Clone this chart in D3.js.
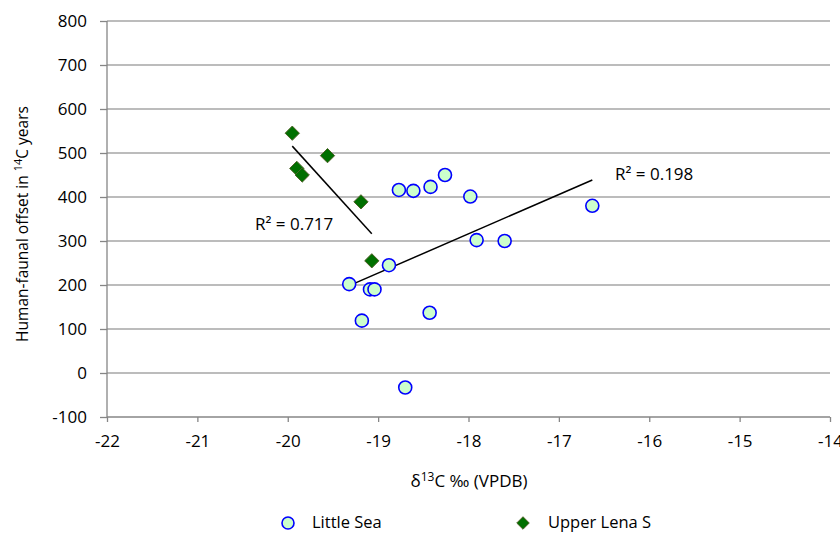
<!DOCTYPE html>
<html>
<head>
<meta charset="utf-8">
<script src="https://cdn.jsdelivr.net/npm/d3@7"></script>
<style>
  body { margin: 0; background: #fff; }
  text { font-family: "Open Sans", "Liberation Sans", sans-serif; fill: #000; }
</style>
</head>
<body>
<svg class="chart"></svg>
<script>
var width = 840, height = 534;

// Little Sea (circles)
var littleSeaX = [-18.77, -18.61, -18.42, -18.26, -17.98, -17.91, -17.60, -18.88, -19.32, -19.09, -19.04, -19.18, -18.43, -18.70, -16.63];
var littleSeaY = [416, 414, 423, 450, 401, 302, 300, 245, 202, 190, 190, 119, 137, -33, 380];
// Upper Lena S (diamonds)
var lenaX = [-19.95, -19.56, -19.90, -19.84, -19.19, -19.07];
var lenaY = [545, 494, 465, 450, 389, 255];

var xTicks = [-22, -21, -20, -19, -18, -17, -16, -15, -14];
var yTicks = [-100, 0, 100, 200, 300, 400, 500, 600, 700, 800];
var seriesNames = ["Little Sea", "Upper Lena S"];
var r2Labels = ["R\u00b2 = 0.198", "R\u00b2 = 0.717"];

var chart = d3.select(".chart")
    .attr("width", width)
    .attr("height", height);

var x_scale = d3.scaleLinear()
    .domain([-22, -14])
    .range([107, 830]);

var y_scale = d3.scaleLinear()
    .domain([-100, 800])
    .range([417, 21]);

// gridlines
chart.append("g")
    .selectAll("line")
    .data(yTicks.slice(1))
    .enter().append("line")
    .attr("x1", x_scale(-22))
    .attr("x2", x_scale(-14))
    .attr("y1", function(d) { return y_scale(d); })
    .attr("y2", function(d) { return y_scale(d); })
    .attr("stroke", "#a6a6a6")
    .attr("stroke-width", 1.3);

var x_axis = d3.axisBottom(x_scale)
    .tickValues(xTicks)
    .tickSize(5)
    .tickPadding(13)
    .tickFormat(function(d) { return String(d); });

var y_axis = d3.axisLeft(y_scale)
    .tickValues(yTicks)
    .tickSize(7)
    .tickPadding(13)
    .tickFormat(function(d) { return String(d); });

var gx = chart.append("g")
    .attr("transform", "translate(0," + y_scale(-100) + ")")
    .call(x_axis);

var gy = chart.append("g")
    .attr("transform", "translate(" + x_scale(-22) + ",0)")
    .call(y_axis);

[gx, gy].forEach(function(g) {
    g.select(".domain").attr("stroke", "#868686").attr("stroke-width", 1.3);
    g.selectAll(".tick line").attr("stroke", "#868686").attr("stroke-width", 1.3);
    g.selectAll(".tick text")
        .style("font-family", "'Open Sans', sans-serif")
        .style("font-size", "17px")
        .attr("fill", "#000");
});
gx.select(".domain").attr("d", "M" + x_scale(-22) + ",0H" + x_scale(-14));
gy.select(".domain").attr("d", "M0," + y_scale(800) + "V" + y_scale(-100));

// least-squares trend lines
function fit(xs, ys) {
    var mx = d3.mean(xs), my = d3.mean(ys);
    var sxy = d3.sum(xs, function(v, i) { return (v - mx) * (ys[i] - my); });
    var sxx = d3.sum(xs, function(v) { return (v - mx) * (v - mx); });
    var b = sxy / sxx;
    var x0 = d3.min(xs), x1 = d3.max(xs);
    return [[x0, my + b * (x0 - mx)], [x1, my + b * (x1 - mx)]];
}

var line = d3.line()
    .x(function(d) { return x_scale(d[0]); })
    .y(function(d) { return y_scale(d[1]); });

[fit(littleSeaX, littleSeaY), fit(lenaX, lenaY)].forEach(function(seg) {
    chart.append("path")
        .attr("d", line(seg))
        .attr("stroke", "#000")
        .attr("stroke-width", 1.5)
        .attr("fill", "none");
});

// Little Sea markers
chart.append("g")
    .selectAll("circle")
    .data(littleSeaX)
    .enter().append("circle")
    .attr("cx", function(d) { return x_scale(d); })
    .attr("cy", function(d, i) { return y_scale(littleSeaY[i]); })
    .attr("r", 6.5)
    .attr("fill", "#ccffcc")
    .attr("stroke", "#0000ff")
    .attr("stroke-width", 1.6);

var diamond = d3.symbol().type(d3.symbolDiamond2).size(130);

// Upper Lena markers
chart.append("g")
    .selectAll("path")
    .data(lenaX)
    .enter().append("path")
    .attr("d", diamond)
    .attr("transform", function(d, i) {
        return "translate(" + x_scale(d) + "," + y_scale(lenaY[i]) + ")";
    })
    .attr("fill", "#007000")
    .attr("stroke", "#4f6228")
    .attr("stroke-width", 1);

// R2 labels
chart.append("text")
    .attr("x", 615)
    .attr("y", 180)
    .style("font-size", "17px")
    .text(r2Labels[0]);

chart.append("text")
    .attr("x", 255)
    .attr("y", 230)
    .style("font-size", "17px")
    .text(r2Labels[1]);

// axis titles
var yt = chart.append("text")
    .attr("transform", "translate(28,224) rotate(-90)")
    .attr("text-anchor", "middle")
    .style("font-size", "15.5px");
yt.append("tspan").text("Human-faunal offset in ");
yt.append("tspan").attr("dy", -6).style("font-size", "11px").text("14");
yt.append("tspan").attr("dy", 6).text("C years");

var xt = chart.append("text")
    .attr("x", 469)
    .attr("y", 487)
    .attr("text-anchor", "middle")
    .style("font-size", "17px");
xt.append("tspan").text("\u03b4");
xt.append("tspan").attr("dy", -6).style("font-size", "12px").text("13");
xt.append("tspan").attr("dy", 6).text("C \u2030 (VPDB)");

// legend
var legend = chart.append("g");
legend.append("circle")
    .attr("cx", 288).attr("cy", 523).attr("r", 6)
    .attr("fill", "#ccffcc").attr("stroke", "#0000ff").attr("stroke-width", 1.6);
legend.append("text")
    .attr("x", 312).attr("y", 528)
    .style("font-size", "16.5px")
    .text(seriesNames[0]);
legend.append("path")
    .attr("d", d3.symbol().type(d3.symbolDiamond2).size(100))
    .attr("transform", "translate(523,523)")
    .attr("fill", "#007000").attr("stroke", "#4f6228").attr("stroke-width", 1);
legend.append("text")
    .attr("x", 548).attr("y", 528)
    .style("font-size", "16.5px")
    .text(seriesNames[1]);
</script>
</body>
</html>
